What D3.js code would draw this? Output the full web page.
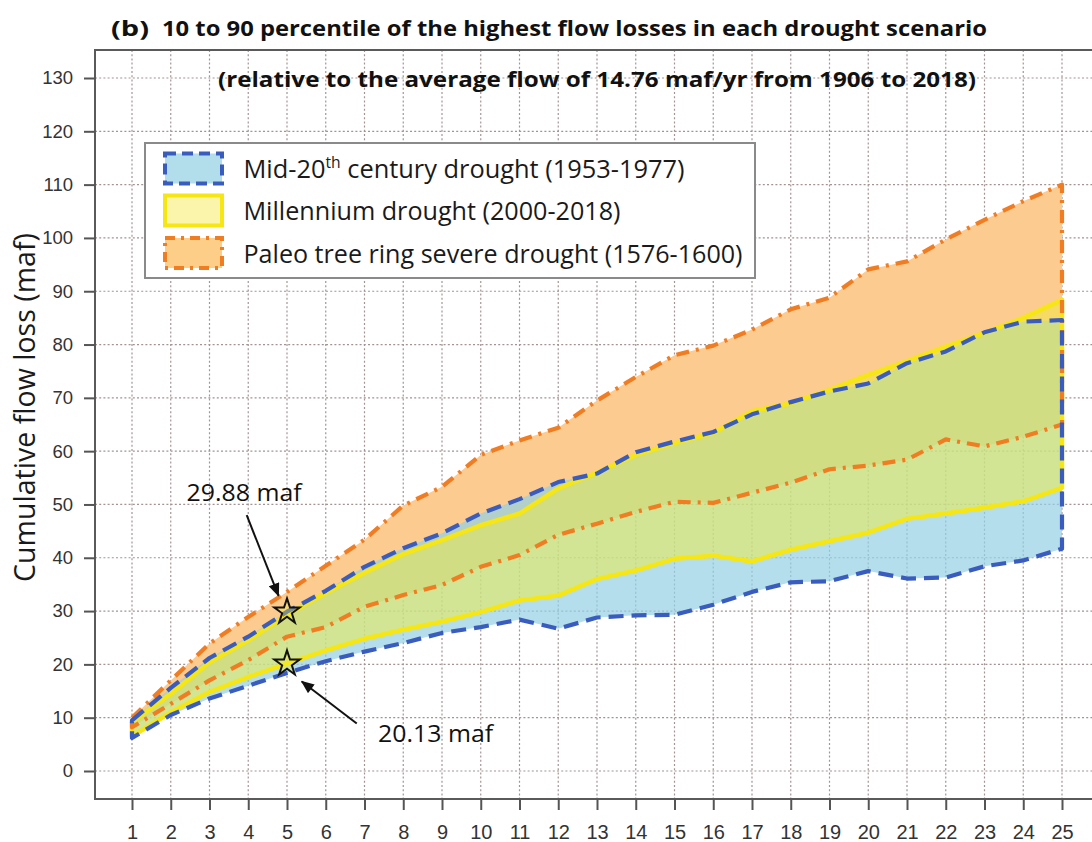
<!DOCTYPE html>
<html><head><meta charset="utf-8">
<script src="https://cdn.jsdelivr.net/npm/d3@7"></script>
<style>body{margin:0;background:#fff}svg{display:block}</style>
</head><body>
<svg id="c" width="1092" height="842"></svg>
<script>
// ---------------- data ----------------
const years = [1,2,3,4,5,6,7,8,9,10,11,12,13,14,15,16,17,18,19,20,21,22,23,24,25];
const yTicks = [0,10,20,30,40,50,60,70,80,90,100,110,120,130];
// Mid-20th century drought (1953-1977): 10th / 90th percentile
const midLower = [6.2,10.5,13.6,16.0,18.4,20.6,22.4,24.0,25.9,27.0,28.4,26.7,28.8,29.2,29.3,31.2,33.6,35.4,35.6,37.5,36.1,36.3,38.4,39.5,41.7];
const midUpper = [9.5,15.6,21.2,25.2,29.88,33.8,38.3,41.8,44.6,48.3,51.0,54.2,55.8,59.8,61.8,63.6,66.9,69.2,71.2,72.7,76.5,78.7,82.3,84.3,84.6];
// Millennium drought (2000-2018)
const milLower = [6.5,11.0,14.8,17.6,20.13,22.6,24.8,26.5,28.0,29.8,32.0,32.9,36.0,37.6,39.8,40.4,39.3,41.5,43.1,44.7,47.3,48.3,49.4,50.6,53.1];
const milUpper = [9.2,14.5,20.4,24.5,29.3,33.4,37.2,40.7,43.3,46.1,48.3,53.0,56.0,59.3,61.5,63.4,67.5,69.0,71.5,74.3,76.9,79.6,82.2,85.0,88.4];
// Paleo tree ring severe drought (1576-1600)
const paleoLower = [8.2,12.6,17.0,20.8,25.2,27.0,30.8,33.0,34.9,38.3,40.5,44.3,46.4,48.6,50.5,50.3,52.2,54.1,56.6,57.3,58.4,62.2,60.9,62.7,65.0];
const paleoUpper = [10.0,17.0,23.9,28.9,33.6,38.5,43.4,49.8,53.3,59.3,62.0,64.4,69.5,73.9,78.0,79.8,82.8,86.6,88.8,94.1,95.6,99.7,103.4,106.9,110.0];
// highlighted points (year, value, label) and label/arrow anchors in data units
const starYears = [5, 5];
const starValues = [29.88, 20.13];
const starLabels = ["29.88 maf", "20.13 maf"];
const labelPos = [[2.41, 50.6], [7.35, 5.4]];
const arrowFrom = [[3.96, 48.0], [6.80, 8.9]];
const arrowTo = [[4.78, 32.9], [5.38, 16.8]];
const legendLabels = ["Mid-20", "Millennium drought (2000-2018)", "Paleo tree ring severe drought (1576-1600)"];

// ---------------- layout ----------------
const W = 1092, H = 842;
const frame = {left: 95, top: 50, bottom: 799, right: 1100};
const x = d3.scaleLinear().domain([1, 25]).range([132, 1062]);
const y = d3.scaleLinear().domain([0, 130]).range([771, 78]);
const svg = d3.select('#c');
const FONT = "'Open Sans', 'Liberation Sans', sans-serif";

function fit(sel, w) { return sel.attr('textLength', w).attr('lengthAdjust', 'spacingAndGlyphs'); }

// grid
const grid = svg.append('g').attr('stroke', '#a39494').attr('stroke-width', 1.2).attr('stroke-dasharray', '2,2.2');
grid.selectAll('line.v').data(years).join('line').attr('class', 'v')
  .attr('x1', d => x(d)).attr('x2', d => x(d)).attr('y1', frame.top).attr('y2', frame.bottom);
grid.selectAll('line.h').data(yTicks).join('line').attr('class', 'h')
  .attr('x1', frame.left).attr('x2', W).attr('y1', d => y(d)).attr('y2', d => y(d));

// series
const series = [
  {lo: paleoLower, up: paleoUpper, fill: 'rgb(251,203,144)', fo: 1, stroke: '#f07d22', dash: '13,7,3,7'},
  {lo: midLower, up: midUpper, fill: 'rgb(148,208,228)', fo: 0.7, stroke: '#3a5cbf', dash: '15,8'},
  {lo: milLower, up: milUpper, fill: 'rgb(240,235,60)', fo: 0.5, stroke: '#f5e614', dash: null}
];
const area = d3.area().x((d, i) => x(years[i]));
series.forEach(s => {
  svg.append('path')
    .attr('d', area.y0((d, i) => y(s.lo[i])).y1((d, i) => y(s.up[i]))(years))
    .attr('fill', s.fill).attr('fill-opacity', s.fo);
});
const line = d3.line().x(d => x(d[0])).y(d => y(d[1]));
const outlineOrder = [series[2], series[0], series[1]];
outlineOrder.forEach(s => {
  const pts = years.map((yr, i) => [yr, s.up[i]])
    .concat(years.map((yr, i) => [yr, s.lo[i]]).reverse());
  svg.append('path').attr('d', line(pts) + 'Z')
    .attr('fill', 'none').attr('stroke', s.stroke).attr('stroke-width', s.dash ? 4.2 : 4.5)
    .attr('stroke-dasharray', s.dash).attr('stroke-linejoin', 'round');
});

// frame / axes
svg.append('path').attr('d', `M${W},${frame.top}H${frame.left}V${frame.bottom}H${W}`)
  .attr('fill', 'none').attr('stroke', '#5a5a5a').attr('stroke-width', 2);
const yAxis = svg.append('g').attr('transform', `translate(${frame.left},0)`)
  .call(d3.axisLeft(y).tickValues(yTicks).tickSize(11).tickPadding(11));
const xAxis = svg.append('g').attr('transform', `translate(0,${frame.bottom})`)
  .call(d3.axisBottom(x).tickValues(years).tickSize(11).tickPadding(15));
[yAxis, xAxis].forEach(a => {
  a.select('.domain').remove();
  a.selectAll('.tick line').attr('stroke', '#555').attr('stroke-width', 2);
  a.selectAll('.tick text').attr('fill', '#333').attr('font-family', "'Liberation Sans', Arial, sans-serif");
});
yAxis.selectAll('.tick text').attr('font-size', 18.5);
xAxis.selectAll('.tick text').attr('font-size', 20);

// y axis title
fit(svg.append('text').attr('transform', 'translate(35,407.5) rotate(-90)')
  .attr('text-anchor', 'middle').attr('font-family', FONT).attr('font-size', 29)
  .attr('fill', '#1a1a1a').text('Cumulative flow loss (maf)'), 349);

// titles
fit(svg.append('text').attr('x', 111).attr('y', 36).attr('font-family', FONT).attr('font-weight', 700)
  .attr('font-size', 22).attr('fill', '#111').text('(b)'), 38);
fit(svg.append('text').attr('x', 162).attr('y', 36).attr('font-family', FONT).attr('font-weight', 700)
  .attr('font-size', 21.5).attr('fill', '#111')
  .text('10 to 90 percentile of the highest flow losses in each drought scenario'), 825);
fit(svg.append('text').attr('x', 218).attr('y', 86.5).attr('font-family', FONT).attr('font-weight', 700)
  .attr('font-size', 21.5).attr('fill', '#111')
  .text('(relative to the average flow of 14.76 maf/yr from 1906 to 2018)'), 758);

// legend
const lg = svg.append('g');
lg.append('rect').attr('x', 145).attr('y', 143).attr('width', 610).attr('height', 135)
  .attr('fill', '#fff').attr('stroke', '#8a8a8a').attr('stroke-width', 2);
const legendRows = [
  {cy: 168.5, fill: 'rgb(178,222,236)', stroke: '#3a5cbf', dash: '11,6', w: 441},
  {cy: 210.5, fill: 'rgb(250,245,170)', stroke: '#f5e614', dash: null, w: 377},
  {cy: 253, fill: 'rgb(252,206,135)', stroke: '#f07d22', dash: '10,6,3,6', w: 499}
];
legendRows.forEach((r, i) => {
  lg.append('rect').attr('x', 165).attr('y', r.cy - 15).attr('width', 57).attr('height', 30)
    .attr('fill', r.fill).attr('stroke', r.stroke).attr('stroke-width', 4).attr('stroke-dasharray', r.dash);
  const t = lg.append('text').attr('x', 243.5).attr('y', r.cy + 9.5).attr('font-family', FONT)
    .attr('font-size', 26).attr('fill', '#1a1a1a');
  if (i === 0) {
    t.append('tspan').text(legendLabels[0]);
    t.append('tspan').attr('font-size', 16).attr('dy', -10).text('th');
    t.append('tspan').attr('dy', 10).text(' century drought (1953-1977)');
  } else {
    t.text(legendLabels[i]);
  }
  fit(t, r.w);
});

// annotations
const defs = svg.append('defs');
defs.append('marker').attr('id', 'ah').attr('viewBox', '0 0 12 10').attr('refX', 11).attr('refY', 5)
  .attr('markerWidth', 14).attr('markerHeight', 11).attr('markerUnits', 'userSpaceOnUse')
  .attr('orient', 'auto').append('path').attr('d', 'M0,0L12,5L0,10Z').attr('fill', '#111');
arrowFrom.forEach((f, i) => {
  svg.append('line').attr('x1', x(f[0])).attr('y1', y(f[1]))
    .attr('x2', x(arrowTo[i][0])).attr('y2', y(arrowTo[i][1]))
    .attr('stroke', '#111').attr('stroke-width', 2).attr('marker-end', 'url(#ah)');
});
const star = d3.symbol().type(d3.symbolStar).size(200);
starYears.forEach((yr, i) => {
  svg.append('path').attr('d', star()).attr('transform', `translate(${x(yr)},${y(starValues[i])})`)
    .attr('fill', 'rgba(250,235,40,0.35)').attr('stroke', '#111').attr('stroke-width', 2)
    .attr('stroke-linejoin', 'miter');
  fit(svg.append('text').attr('x', x(labelPos[i][0])).attr('y', y(labelPos[i][1]))
    .attr('font-family', FONT).attr('font-size', 23).attr('fill', '#111').text(starLabels[i]), 115);
});
</script>
</body></html>
